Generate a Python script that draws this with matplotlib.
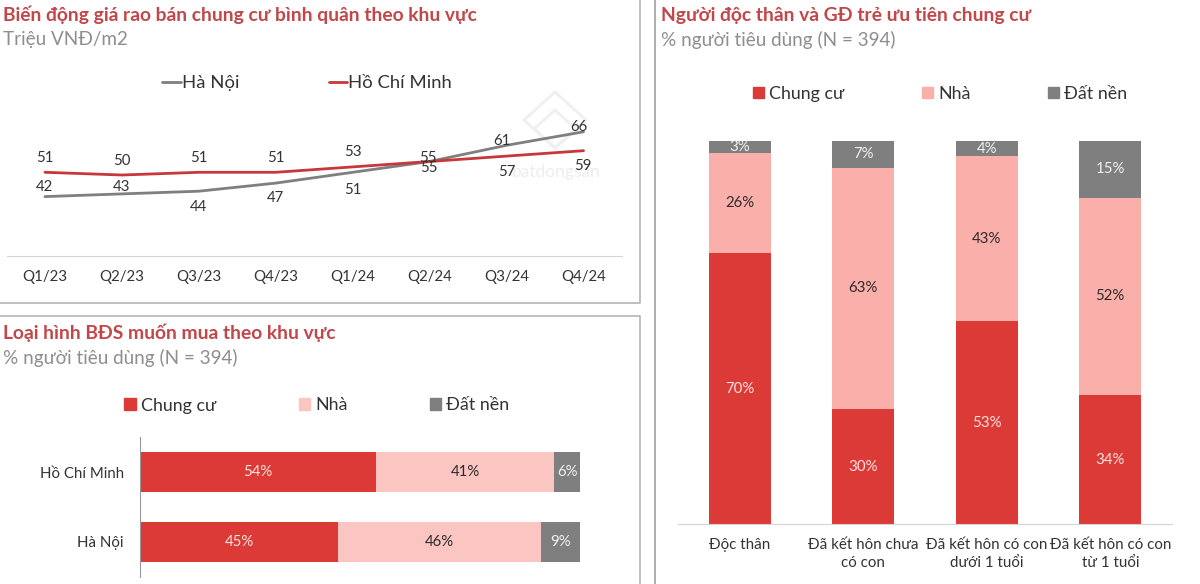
import matplotlib
matplotlib.use("Agg")
import matplotlib.pyplot as plt
from matplotlib.lines import Line2D
from matplotlib.patches import Patch
import numpy as np

W, H = 1200, 584
plt.rcParams['font.family'] = ['Lato', 'DejaVu Sans']

quarters = ['Q1/23', 'Q2/23', 'Q3/23', 'Q4/23', 'Q1/24', 'Q2/24', 'Q3/24', 'Q4/24']
hanoi = [42, 43, 44, 47, 51, 55, 61, 66]
hcm = [51, 50, 51, 51, 53, 55, 57, 59]
hanoi_offsets = [(-1, 10), (0, 7), (0, -16), (0, -15), (0, -18), (-1, -7), (-5, 4), (-5, 5)]
hcm_offsets = [(0, 14), (0, 14), (0, 14), (0, 14), (0, 15), (-2, 4), (0, -16), (-1, -15)]

regions = ['Hồ Chí Minh', 'Hà Nội']
region_apartment = [54, 45]
region_house = [41, 46]
region_land = [6, 9]

groups = ['Độc thân', 'Đã kết hôn chưa\ncó con', 'Đã kết hôn có con\ndưới 1 tuổi', 'Đã kết hôn có con\ntừ 1 tuổi']
group_apartment = [70, 30, 53, 34]
group_house = [26, 63, 43, 52]
group_land = [3, 7, 4, 15]

types = ['Chung cư', 'Nhà', 'Đất nền']

RED = '#DC3A36'
PINK_L = '#FBC5C2'
PINK_R = '#FBAFAB'
GREY = '#7F7F7F'
LINE_RED = '#C8383A'
TITLE = '#C2474A'
SUB = '#8E8E8E'
TXT = '#333333'
BORDER = '#B4B4B4'
AXIS = '#D4D4D4'

fig = plt.figure(figsize=(W / 100, H / 100), dpi=100, facecolor='white')


def axes_px(x0, y0, x1, y1):
    a = fig.add_axes([x0 / W, 1 - y1 / H, (x1 - x0) / W, (y1 - y0) / H])
    a.patch.set_alpha(0)
    return a


def ftext(x, y, s, **kw):
    kw.setdefault('va', 'center')
    fig.text(x / W, 1 - y / H, s, **kw)


def fline(xs, ys, **kw):
    kw.setdefault('zorder', -1)
    fig.add_artist(Line2D([x / W for x in xs], [1 - y / H for y in ys], transform=fig.transFigure, **kw))


# panel frames
fline([0, 640, 640], [302.5, 302.5, 0], color=BORDER, lw=1.2)
fline([0, 639.5, 639.5], [316, 316, 584], color=BORDER, lw=1.2)
fline([654.5, 654.5], [0, 584], color='#A8A8A8', lw=1.3)

# titles
TS = 13.9
SS = 13.6
ftext(3, 15, 'Biến động giá rao bán chung cư bình quân theo khu vực', color=TITLE, fontsize=TS, fontweight='bold')
ftext(3, 40, 'Triệu VNĐ/m2', color=SUB, fontsize=SS)
ftext(3, 333, 'Loại hình BĐS muốn mua theo khu vực', color=TITLE, fontsize=TS, fontweight='bold')
ftext(3, 357.5, '% người tiêu dùng (N = 394)', color=SUB, fontsize=SS)
ftext(661, 15, 'Người độc thân và GĐ trẻ ưu tiên chung cư', color=TITLE, fontsize=TS, fontweight='bold')
ftext(661, 40, '% người tiêu dùng (N = 394)', color=SUB, fontsize=SS)

# watermark
ftext(556, 172, 'batdongsan', color='#EDEDED', fontsize=12.5, ha='center', zorder=-1)
for cy, rx, ry in [(120, 31, 28), (129, 21, 19)]:
    fline([555 - rx, 555, 555 + rx, 555, 555 - rx], [cy, cy - ry, cy, cy + ry, cy], color='#F0F0F0', lw=2.2)

# line chart
ax1 = axes_px(6.5, 94, 622, 256)
xs = np.arange(len(quarters))
l_hn, = ax1.plot(xs, hanoi, color=GREY, lw=2.0, solid_capstyle='round', solid_joinstyle='round')
l_hcm, = ax1.plot(xs, hcm, color=LINE_RED, lw=2.0, solid_capstyle='round', solid_joinstyle='round')
ax1.set_xlim(-0.5, 7.5)
ax1.set_ylim(20, 80)
for s in ['top', 'left', 'right']:
    ax1.spines[s].set_visible(False)
ax1.spines['bottom'].set_color(AXIS)
ax1.set_yticks([])
ax1.set_xticks(xs, quarters)
ax1.tick_params(axis='x', length=0, pad=10, labelsize=10.8, labelcolor=TXT)
for series, offsets in [(hanoi, hanoi_offsets), (hcm, hcm_offsets)]:
    for x, v, off in zip(xs, series, offsets):
        ax1.annotate(str(v), (x, v), xytext=off, textcoords='offset pixels', ha='center', va='center',
                     fontsize=10.8, color=TXT)
fig.legend([l_hn, l_hcm], ['Hà Nội', 'Hồ Chí Minh'], loc='center', bbox_to_anchor=(307 / W, 1 - 83 / H), ncols=2,
           frameon=False, fontsize=13.3, labelcolor=TXT, handlelength=1.0, handletextpad=0.05, columnspacing=4.85)


def legend3(center_x, y, colors, spacing):
    handles = [Patch(color=c) for c in colors]
    fig.legend(handles, types, loc='center', bbox_to_anchor=(center_x / W, 1 - y / H), ncols=3, frameon=False,
               fontsize=12.9, labelcolor=TXT, handlelength=0.62, handleheight=0.62, handletextpad=0.3,
               columnspacing=spacing)


# horizontal stacked bars
ax2 = axes_px(140.4, 437, 580.4, 577)
ypos = np.arange(len(regions))
a2 = np.array(region_apartment, float)
b2 = np.array(region_house, float)
c2 = np.array(region_land, float)
tot2 = a2 + b2 + c2
left = np.zeros(len(regions))
for vals, col, tc in [(a2, RED, '#FBE3E1'), (b2, PINK_L, '#2B2B2B'), (c2, GREY, '#F2F2F2')]:
    share = vals / tot2
    ax2.barh(ypos, share, left=left, height=0.56, color=col)
    for y, l, sh, v in zip(ypos, left, share, vals):
        ax2.text(l + sh / 2, y, f'{v:.0f}%', ha='center', va='center', color=tc, fontsize=10.8)
    left = left + share
ax2.set_xlim(0, 1)
ax2.set_ylim(1.5, -0.5)
ax2.set_yticks(ypos, regions)
ax2.set_xticks([])
for s in ['top', 'bottom', 'right']:
    ax2.spines[s].set_visible(False)
ax2.spines['left'].set_color('#999999')
ax2.spines['left'].set_linewidth(0.8)
ax2.tick_params(axis='y', length=0, pad=12, labelsize=10.8, labelcolor=TXT)
legend3(317, 405.5, [RED, PINK_L, GREY], 4.6)

# vertical stacked bars
ax3 = axes_px(678, 141, 1172, 524)
xpos = np.arange(len(groups))
a3 = np.array(group_apartment, float)
b3 = np.array(group_house, float)
c3 = np.array(group_land, float)
tot3 = a3 + b3 + c3
bottom = np.zeros(len(groups))
for vals, col, tc in [(a3, RED, '#FBE3E1'), (b3, PINK_R, '#2B2B2B'), (c3, GREY, '#F2F2F2')]:
    share = vals / tot3
    ax3.bar(xpos, share, bottom=bottom, width=0.5, color=col)
    for x, b, sh, v in zip(xpos, bottom, share, vals):
        ax3.text(x, b + sh / 2, f'{v:.0f}%', ha='center', va='center', color=tc, fontsize=10.8)
    bottom = bottom + share
ax3.set_xlim(-0.5, 3.5)
ax3.set_ylim(0, 1)
ax3.set_yticks([])
ax3.set_xticks(xpos, groups)
for s in ['top', 'left', 'right']:
    ax3.spines[s].set_visible(False)
ax3.spines['bottom'].set_color(AXIS)
ax3.tick_params(axis='x', length=0, pad=10, labelsize=10.9, labelcolor=TXT)
for t in ax3.get_xticklabels():
    t.set_linespacing(1.4)
legend3(940, 94, [RED, PINK_R, GREY], 4.3)

fig.savefig('out.png', dpi=100, facecolor='white')
